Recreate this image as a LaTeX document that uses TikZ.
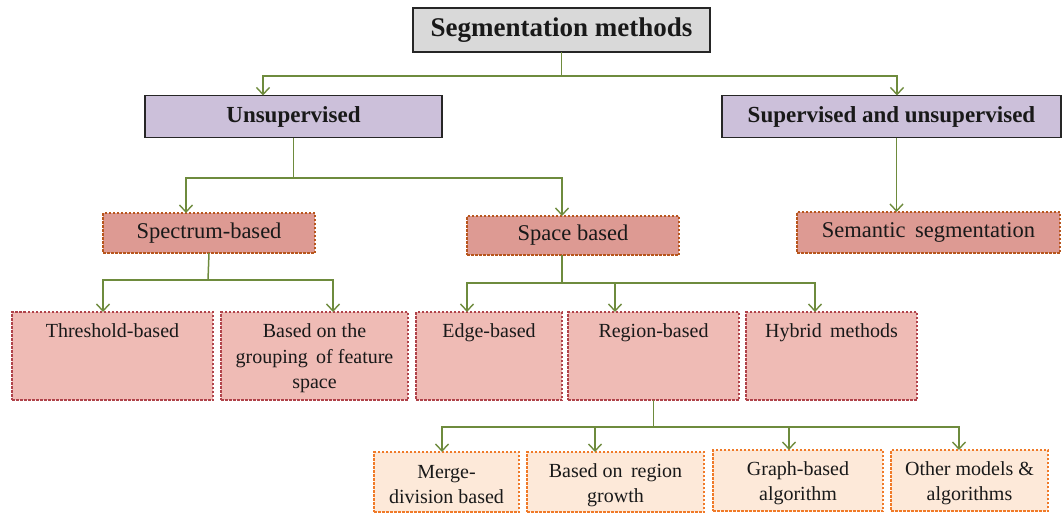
\documentclass[tikz,border=0pt]{standalone}
\usepackage{fontspec}
\setmainfont{Liberation Serif}
\usetikzlibrary{arrows.meta,calc}
\definecolor{connc}{HTML}{6E8B3D}
\definecolor{grayfill}{HTML}{D9D9D9}
\definecolor{lavfill}{HTML}{CCC0DA}
\definecolor{lthreefill}{HTML}{DD9A93}
\definecolor{lthreeline}{HTML}{B8561E}
\definecolor{lfourfill}{HTML}{EFBBB5}
\definecolor{lfourline}{HTML}{B0434A}
\definecolor{lfivefill}{HTML}{FDE9D9}
\definecolor{lfiveline}{HTML}{F07A28}
\begin{document}
\begin{tikzpicture}[x=1pt,y=-1pt,
  base/.style={inner sep=0pt, outer sep=0pt, align=center, text=black!90},
  lonebox/.style={base, draw=black!85, line width=1.4pt, fill=grayfill, font=\fontsize{27}{30}\selectfont\bfseries},
  ltwobox/.style={base, draw=black!85, line width=1.4pt, fill=lavfill, font=\fontsize{23}{28}\selectfont\bfseries},
  lthreebox/.style={base, draw=lthreeline, line width=1.1pt, dash pattern=on 2.5pt off 1.5pt, fill=lthreefill, font=\fontsize{22.5}{27}\selectfont},
  lfourbox/.style={base, draw=lfourline, line width=1.1pt, dash pattern=on 2.5pt off 1.5pt, fill=lfourfill},
  lfivebox/.style={base, draw=lfiveline, line width=1.2pt, dash pattern=on 2.5pt off 1.5pt, fill=lfivefill},
  lfourtext/.style={base, anchor=north, font=\fontsize{20}{25.5}\selectfont},
  lfivetext/.style={base, font=\fontsize{20}{25}\selectfont},
  conline/.style={draw=connc, line width=1.5pt},
  conarrow/.style={draw=connc, line width=1.5pt, -{Straight Barb[length=7pt,width=13pt,line width=1.4pt]}}
]
\useasboundingbox (0,0) rectangle (1063,514);

% level 1
\node[lonebox, minimum width=297pt, minimum height=44pt] (top) at (561.5,30) {Segmentation methods};
% level 2
\node[ltwobox, minimum width=297pt, minimum height=42pt] (uns) at (293.5,116.5) {Unsupervised};
\node[ltwobox, minimum width=339pt, minimum height=42pt] (sup) at (891.5,116.5) {Supervised and unsupervised};
% level 3
\node[lthreebox, minimum width=212pt, minimum height=40pt] (spec) at (209,233) {Spectrum-based};
\node[lthreebox, minimum width=212pt, minimum height=39pt] (space) at (573,235.5) {Space based};
\node[lthreebox, minimum width=263pt, minimum height=41pt] (sem) at (928.5,232.5) {Semantic\, segmentation};
% level 4
\node[lfourbox, minimum width=201pt, minimum height=88pt] (thr) at (112.5,356) {};
\node[lfourbox, minimum width=187pt, minimum height=88pt] (grp) at (314.5,356) {};
\node[lfourbox, minimum width=146pt, minimum height=88pt] (edge) at (489,356) {};
\node[lfourbox, minimum width=171pt, minimum height=88pt] (reg) at (653.5,356) {};
\node[lfourbox, minimum width=171pt, minimum height=88pt] (hyb) at (831.5,356) {};
\node[lfourtext] (thrt) at ([yshift=-12pt]thr.north) {Threshold-based};
\node[lfourtext] (grpt) at ([yshift=-12pt]grp.north) {Based on the\\grouping\, of feature\\space};
\node[lfourtext] (edget) at ([yshift=-12pt]edge.north) {Edge-based};
\node[lfourtext] (regt) at ([yshift=-12pt]reg.north) {Region-based};
\node[lfourtext] (hybt) at ([yshift=-12pt]hyb.north) {Hybrid\, methods};
% level 5
\node[lfivebox, minimum width=145pt, minimum height=60pt] (merge) at (446.5,482) {};
\node[lfivebox, minimum width=177pt, minimum height=60pt] (grow) at (615.5,482) {};
\node[lfivebox, minimum width=170pt, minimum height=61pt] (graph) at (798,480.5) {};
\node[lfivebox, minimum width=157pt, minimum height=61pt] (other) at (969.5,480.5) {};
\node[lfivetext] (merget) at ([yshift=-3pt]merge.center) {Merge-\\division based};
\node[lfivetext] (growt) at ([yshift=-3pt]grow.center) {Based on\, region\\growth};
\node[lfivetext] (grapht) at ([yshift=-3pt]graph.center) {Graph-based\\algorithm};
\node[lfivetext] (othert) at ([yshift=-3pt]other.center) {Other models \&\\algorithms};

% connectors
\coordinate (jone) at (561.5,76);
\draw[conline] (top.south) -- (jone);
\draw[conarrow] (jone) -| ([xshift=-30.5pt]uns.north);
\draw[conarrow] (jone) -| ([xshift=5.5pt]sup.north);

\coordinate (jtwo) at (293.5,178);
\draw[conline] (uns.south) -- (jtwo);
\draw[conarrow] (jtwo) -| ([xshift=-23pt]spec.north);
\draw[conarrow] (jtwo) -| ([xshift=-11pt]space.north);

\draw[conarrow] ([xshift=5pt]sup.south) -- ([xshift=-32pt]sem.north);

\coordinate (jthree) at (208,280);
\draw[conline] (spec.south) -- (jthree);
\draw[conarrow] (jthree) -| ([xshift=-9.5pt]thr.north);
\draw[conarrow] (jthree) -| ([xshift=18.5pt]grp.north);

\coordinate (jfour) at (562,283);
\draw[conline] ([xshift=-11pt]space.south) -- (jfour);
\draw[conarrow] (jfour) -| ([xshift=-22pt]edge.north);
\draw[conarrow] (jfour) -| ([xshift=-38.5pt]reg.north);
\draw[conarrow] (jfour) -| ([xshift=-16.5pt]hyb.north);

\coordinate (jfive) at (653.5,427);
\draw[conline] (reg.south) -- (jfive);
\draw[conarrow] (jfive) -| ([xshift=-4.5pt]merge.north);
\draw[conarrow] (jfive) -| ([xshift=-20.5pt]grow.north);
\draw[conarrow] (jfive) -| ([xshift=-9pt]graph.north);
\draw[conarrow] (jfive) -| ([xshift=-10.5pt]other.north);
\end{tikzpicture}
\end{document}
